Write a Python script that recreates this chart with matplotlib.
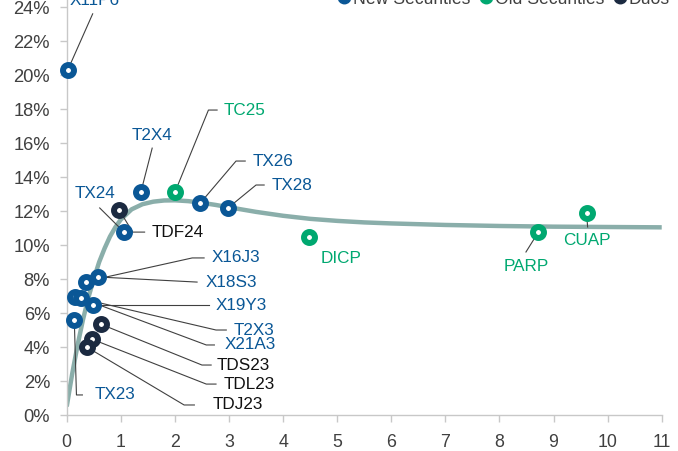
import matplotlib
matplotlib.use("Agg")
from matplotlib import pyplot as plt
from matplotlib.lines import Line2D
from matplotlib.ticker import PercentFormatter

plt.rcParams['font.family'] = ['Liberation Sans', 'DejaVu Sans']

# bonds: name, duration, yield (%), group
names = ['X11P6', 'T2X4', 'TC25', 'TX26', 'TX28', 'TX24', 'TDF24', 'DICP', 'PARP', 'CUAP',
         'X16J3', 'X18S3', 'X19Y3', 'T2X3', 'X21A3', 'TDS23', 'TDL23', 'TDJ23', 'TX23']
duration = [0.02, 1.37, 2.0, 2.47, 2.99, 1.06, 0.97, 4.48, 8.72, 9.61,
            0.35, 0.58, 0.48, 0.15, 0.26, 0.64, 0.46, 0.38, 0.14]
ytm = [20.3, 13.1, 13.1, 12.47, 12.2, 10.76, 12.06, 10.47, 10.76, 11.88,
       7.85, 8.12, 6.47, 6.94, 6.88, 5.33, 4.47, 3.98, 5.6]
group = ['new', 'new', 'old', 'new', 'new', 'new', 'duo', 'old', 'old', 'old',
         'new', 'new', 'new', 'new', 'new', 'duo', 'duo', 'duo', 'new']

# fitted curve
curve_x = [0, 0.1, 0.2, 0.3, 0.4, 0.5, 0.6, 0.7, 0.8, 0.9, 1.0, 1.2, 1.4, 1.6, 1.8, 2.0,
           2.25, 2.5, 2.75, 3.0, 3.5, 4, 4.5, 5, 5.5, 6, 7, 8, 9, 10, 11]
curve_y = [0.5, 2.4, 4.1, 5.6, 6.9, 8.0, 9.0, 9.8, 10.5, 11.05, 11.5, 12.1, 12.4, 12.55, 12.62, 12.63,
           12.58, 12.48, 12.36, 12.22, 11.95, 11.72, 11.54, 11.42, 11.33, 11.27, 11.18, 11.12, 11.08, 11.06, 11.04]

colors = {'new': '#0a5796', 'old': '#00a870', 'duo': '#1b2a41'}
text_colors = {'new': '#0a5796', 'old': '#00a870', 'duo': '#111111'}
legend_labels = {'new': 'New Securities', 'old': 'Old Securities', 'duo': 'Duos'}

# label layout: text x, text y, alignment, elbow x, leader end x, leader end y
layout = {
    'X11P6': (0.52, 24.4, 'center', None, 0.48, 23.6),
    'T2X4': (1.58, 16.47, 'center', None, 1.58, 15.7),
    'TC25': (2.91, 17.94, 'left', 2.62, 2.78, None),
    'TX26': (3.43, 14.94, 'left', 3.13, 3.30, None),
    'TX28': (3.78, 13.53, 'left', 3.50, 3.65, None),
    'TX24': (0.52, 13.06, 'center', None, 0.61, 12.18),
    'TDF24': (1.57, 10.76, 'left', 1.22, 1.44, None),
    'DICP': (4.70, 9.18, 'left', None, None, None),
    'PARP': (8.49, 8.76, 'center', None, 8.49, 9.59),
    'CUAP': (9.61, 10.29, 'center', None, 9.63, 11.06),
    'X16J3': (2.67, 9.24, 'left', 2.32, 2.54, None),
    'X18S3': (2.56, 7.82, 'left', 2.41, 2.41, None),
    'X19Y3': (2.76, 6.47, 'left', 2.63, 2.63, None),
    'T2X3': (3.09, 5.0, 'left', 2.76, 2.95, None),
    'X21A3': (2.91, 4.12, 'left', 2.58, 2.73, None),
    'TDS23': (2.78, 2.94, 'left', 2.50, 2.67, None),
    'TDL23': (2.91, 1.82, 'left', 2.58, 2.76, None),
    'TDJ23': (2.69, 0.59, 'left', 2.17, 2.36, None),
    'TX23': (0.52, 1.18, 'left', 0.18, 0.29, None),
}

fig = plt.figure(figsize=(6.78, 4.51), dpi=100)
ax = fig.add_axes([0.0984, 0.0798, 0.8776, 0.98])

ax.plot(curve_x, curve_y, color='#8aaeaa', lw=3.2, zorder=1, solid_capstyle='butt')

for n, x, y, g in zip(names, duration, ytm, group):
    tx, ty, ha, ex, lx, ly = layout[n]
    if lx is not None:
        if ly is None:
            xs, ys = [x, ex, lx], [y, ty, ty]
        else:
            xs, ys = [x, lx], [y, ly]
        ax.plot(xs, ys, color='#404040', lw=0.8, zorder=2, clip_on=False)
    ax.text(tx, ty, n, ha=ha, va='center', fontsize=12.3, color=text_colors[g], clip_on=False)

for g in ['new', 'old', 'duo']:
    xs = [x for x, gg in zip(duration, group) if gg == g]
    ys = [y for y, gg in zip(ytm, group) if gg == g]
    ax.plot(xs, ys, ls='', marker='o', ms=7.9, mew=4.3, mfc='white', mec=colors[g], zorder=3, clip_on=False)

ax.set_xlim(0, 11)
ax.set_ylim(0, 26)
ax.set_xticks(range(0, 12))
ax.set_yticks(range(0, 26, 2))
ax.yaxis.set_major_formatter(PercentFormatter(decimals=0))

for s in ['top', 'right']:
    ax.spines[s].set_visible(False)
for s in ['left', 'bottom']:
    ax.spines[s].set_color('#c8c8c8')
    ax.spines[s].set_linewidth(1.0)
ax.tick_params(axis='both', colors='#c8c8c8', labelcolor='#404040', length=5, width=1)
ax.tick_params(axis='y', labelsize=13.2, pad=7)
ax.tick_params(axis='x', labelsize=12.8, pad=9)

handles = [Line2D([], [], ls='', marker='o', ms=9, color=colors[g]) for g in ['new', 'old', 'duo']]
fig.legend(handles, [legend_labels[g] for g in ['new', 'old', 'duo']], loc='center right',
           bbox_to_anchor=(670 / 678, 1 + 1 / 451), ncol=3, frameon=False, fontsize=12.7,
           handletextpad=0.05, columnspacing=0.45, handlelength=0.9, borderpad=0, borderaxespad=0,
           labelcolor='#404040')

fig.savefig('out.png', dpi=100)
